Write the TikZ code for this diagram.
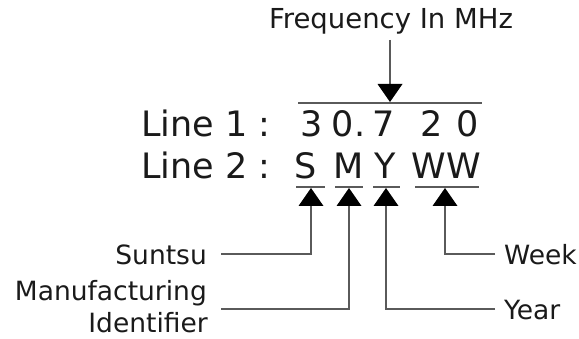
\documentclass[tikz,border=0pt]{standalone}
\usepackage{fontspec}
\setmainfont{DejaVu Sans}
\usetikzlibrary{arrows.meta}
\definecolor{txt}{HTML}{1A1A1A}
\definecolor{ln}{HTML}{5A5A5A}
\tikzset{
  lbl/.style={inner sep=0pt, text=txt, font=\fontsize{26.5}{34}\selectfont},
  big/.style={inner sep=0pt, text=txt, font=\fontsize{35}{42}\selectfont, anchor=base},
  rule/.style={draw=ln, line width=1.6pt},
  conn/.style={draw=ln, line width=1.6pt, -{Triangle[width=25pt,length=18pt,fill=black,line width=0pt]}},
}
\begin{document}
\begin{tikzpicture}[x=1pt,y=-1pt]
\useasboundingbox (0,0) rectangle (579,339);
% top label
\node[lbl, anchor=base, font=\fontsize{27.5}{34}\selectfont] (freq) at (391,29) {Frequency In MHz};
% line 1
\node[big, anchor=base west] (l1) at (141,137) {Line 1 :};
\node[big] (d1) at (311.5,137) {3};
\node[big] (d2) at (343,137) {0};
\node[big] (d3) at (360,137) {.};
\node[big] (d4) at (383.5,137) {7};
\node[big] (d5) at (431.5,137) {2};
\node[big] (d6) at (468,137) {0};
% line 2
\node[big, anchor=base west] (l2) at (141,179) {Line 2 :};
\node[big] (cS) at (305.5,179) {S};
\node[big] (cM) at (348.5,179) {M};
\node[big] (cY) at (385,179) {Y};
\node[big] (cW) at (446,179) {WW};
% overline for frequency
\coordinate (oL) at (298,103);
\coordinate (oR) at (482,103);
\coordinate (fTip) at (390,102);
\coordinate (fStart) at (390,40);
\draw[rule] (oL) -- (oR);
\draw[conn] (fStart) -- (fTip);
% underlines
\coordinate (uS1) at (296,187); \coordinate (uS2) at (325,187);
\coordinate (uM1) at (335,187); \coordinate (uM2) at (363,187);
\coordinate (uY1) at (373,187); \coordinate (uY2) at (400,187);
\coordinate (uW1) at (415,187); \coordinate (uW2) at (479,187);
\draw[rule] (uS1) -- (uS2);
\draw[rule] (uM1) -- (uM2);
\draw[rule] (uY1) -- (uY2);
\draw[rule] (uW1) -- (uW2);
\coordinate (tS) at (311,188);
\coordinate (tM) at (349,188);
\coordinate (tY) at (386,188);
\coordinate (tW) at (445,188);
% labels
\node[lbl, anchor=base east] (suntsu) at (207,265) {Suntsu};
\node[lbl, anchor=base east] (manu) at (207,301) {Manufacturing};
\node[lbl, anchor=base east] (ident) at (208,333) {Identifier};
\node[lbl, anchor=base west] (week) at (504,265) {Week};
\node[lbl, anchor=base west] (year) at (504,320) {Year};
\coordinate (sEnd) at (221,254);
\coordinate (mEnd) at (221,309);
\coordinate (wEnd) at (495,254);
\coordinate (yEnd) at (495,309);
\draw[conn] (sEnd) -| (tS);
\draw[conn] (mEnd) -| (tM);
\draw[conn] (yEnd) -| (tY);
\draw[conn] (wEnd) -| (tW);
\end{tikzpicture}
\end{document}
